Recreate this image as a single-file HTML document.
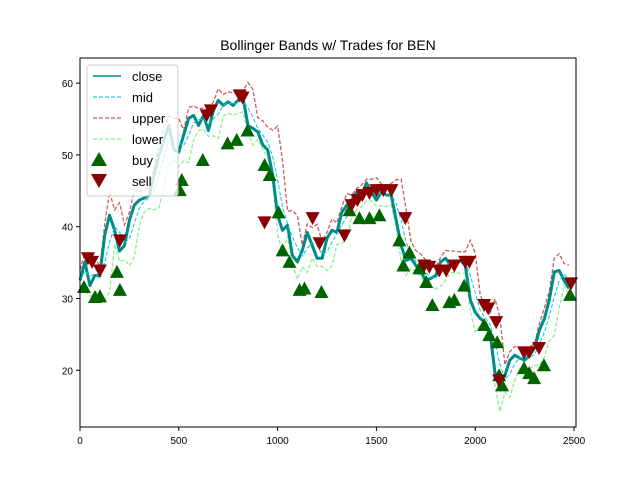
<!DOCTYPE html>
<html><head><meta charset="utf-8"><style>
body{margin:0;background:#fff;}
svg{font-family:"Liberation Sans","DejaVu Sans",sans-serif;}
</style></head><body>
<svg id="chart" width="640" height="480" viewBox="0 0 640 480" xmlns="http://www.w3.org/2000/svg">
<rect width="640" height="480" fill="#fff"/>
<text x="328" y="50" text-anchor="middle" font-size="14">Bollinger Bands w/ Trades for BEN</text>
<g id="plot"></g>
<rect x="80" y="58" width="496" height="369" fill="none" stroke="#000" stroke-width="1"/>
<g id="axes"></g>
<g>
<rect x="87" y="65" width="91" height="131" rx="3" fill="#fff" fill-opacity="0.8" stroke="#ccc"/>
<line x1="93" y1="76" x2="121" y2="76" stroke="#008b8b" stroke-width="1.5"/><text x="132" y="81" font-size="13">close</text>
<line x1="93" y1="97" x2="121" y2="97" stroke="#00bfc4" stroke-width="1" stroke-dasharray="4,2"/><text x="132" y="102" font-size="13">mid</text>
<line x1="93" y1="118" x2="121" y2="118" stroke="#cd5c5c" stroke-width="1.2" stroke-dasharray="4,2"/><text x="132" y="123" font-size="13">upper</text>
<line x1="93" y1="139" x2="121" y2="139" stroke="#90ee90" stroke-width="1.2" stroke-dasharray="4,2"/><text x="132" y="144" font-size="13">lower</text>
<polygon points="99,152 107,166 91,166" fill="#006400"/><text x="132" y="165" font-size="13">buy</text>
<polygon points="91,174 107,174 99,188" fill="#8b0000"/><text x="132" y="186" font-size="13">sell</text>
</g>
</svg>
<script>
const closeStep = 25;
const closeVals = [32.5,35.1,31.8,33.2,33.2,38.8,41.6,39.5,36.6,37.4,40.9,43.0,43.7,44.0,44.4,47.2,50.0,52.1,54.1,50.7,50.4,52.8,55.1,55.5,54.1,55.5,53.4,56.2,57.6,56.9,57.4,56.9,57.6,58.0,54.1,53.7,53.2,51.4,50.7,47.2,41.6,39.5,40.2,36.0,35.1,36.7,39.2,37.4,35.6,35.6,38.4,39.5,39.2,42.0,43.0,43.7,44.8,44.4,46.1,44.8,43.7,44.8,44.4,44.4,40.9,37.4,35.3,35.6,34.6,33.7,32.5,32.8,33.2,35.1,35.6,34.6,35.1,35.3,34.6,29.8,28.1,27.2,26.7,25.3,19.7,17.5,19.3,21.4,22.1,21.7,21.4,22.1,23.1,25.6,27.2,29.8,33.7,33.9,32.5,31.4];
const buyIdx = [20,76,101,187,202,505,515,621,747,793,848,934,960,1005,1025,1060,1111,1136,1222,1364,1414,1465,1515,1616,1636,1667,1717,1752,1783,1869,1894,1944,2045,2071,2111,2121,2136,2247,2273,2298,2348,2480];
const buyVal = [31.6,30.2,30.3,33.7,31.2,45.1,46.5,49.3,51.6,52.1,53.4,48.6,47.2,42.0,36.7,35.1,31.2,31.4,30.9,42.3,41.2,41.2,41.6,38.1,34.6,36.4,34.2,32.3,29.1,29.5,29.8,31.8,26.3,24.9,23.9,19.3,17.9,20.3,19.6,18.9,20.7,30.5];
const sellIdx = [40,61,101,202,641,662,808,823,934,1177,1212,1338,1374,1404,1429,1465,1500,1535,1576,1646,1742,1768,1818,1853,1894,1949,1970,2045,2066,2106,2121,2247,2273,2323,2485];
const sellVal = [35.6,35.1,33.9,38.1,55.5,56.2,58.3,58.0,40.6,41.2,37.7,38.8,43.0,43.7,44.4,44.7,45.1,45.1,45.1,41.2,34.6,34.4,33.9,33.9,34.6,35.1,35.1,29.1,28.6,26.7,18.6,22.5,22.5,23.1,32.1];
const xTicks = [0,500,1000,1500,2000,2500];
const yTicks = [20,30,40,50,60];

const NS="http://www.w3.org/2000/svg";
const L=80,R=576,T=58,B=427, X0=0,X1=2510, Y0=12.1,Y1=63.5;
const sx=v=>L+(v-X0)/(X1-X0)*(R-L);
const sy=v=>B-(v-Y0)/(Y1-Y0)*(B-T);
function mk(tag,attrs,parent){const e=document.createElementNS(NS,tag);for(const k in attrs)e.setAttribute(k,attrs[k]);parent.appendChild(e);return e;}
const plot=document.getElementById('plot'), axes=document.getElementById('axes');

const mid=[],up=[],lo=[];
for(let i=0;i<closeVals.length;i++){
  const w=closeVals.slice(Math.max(0,i-2),i+1);
  const m=w.reduce((a,b)=>a+b,0)/w.length;
  const sd=Math.sqrt(w.reduce((a,b)=>a+(b-m)*(b-m),0)/w.length);
  const h=Math.max(2*sd,1.5);
  mid.push(m);up.push(m+h);lo.push(m-h);
}
function path(arr){return arr.map((v,i)=>(i?'L':'M')+sx(i*closeStep).toFixed(1)+','+sy(v).toFixed(1)).join('');}
let p;
p=mk('path',{d:path(lo),fill:'none',stroke:'#90ee90','stroke-width':1.3,'stroke-dasharray':'4,2'},plot);


p=mk('path',{d:path(up),fill:'none',stroke:'#cd5c5c','stroke-width':1.3,'stroke-dasharray':'4,2'},plot);


p=mk('path',{d:path(closeVals),fill:'none',stroke:'#008b8b','stroke-width':3,'stroke-linejoin':'round'},plot);


p=mk('path',{d:path(mid),fill:'none',stroke:'#00ced1','stroke-width':1,'stroke-dasharray':'4,2'},plot);



buyIdx.forEach((d,i)=>{const x=sx(d),y=sy(buyVal[i]);
  const e=mk('polygon',{points:`${x},${y-7} ${x+7},${y+6} ${x-7},${y+6}`,fill:'#006400'},plot);
  
  });
sellIdx.forEach((d,i)=>{const x=sx(d),y=sy(sellVal[i]);
  const e=mk('polygon',{points:`${x-7},${y-6} ${x+7},${y-6} ${x},${y+7}`,fill:'#8b0000'},plot);
  
  });

xTicks.forEach(t=>{const x=sx(t);
  mk('line',{x1:x,y1:B,x2:x,y2:B+4,stroke:'#000'},axes);
  const e=mk('text',{x:x,y:B+17,'text-anchor':'middle','font-size':10},axes);e.textContent=t;
  
  });
yTicks.forEach(t=>{const y=sy(t);
  mk('line',{x1:L-4,y1:y,x2:L,y2:y,stroke:'#000'},axes);
  const e=mk('text',{x:L-7,y:y+4,'text-anchor':'end','font-size':10},axes);e.textContent=t;
  
  });
</script>
</body></html>
